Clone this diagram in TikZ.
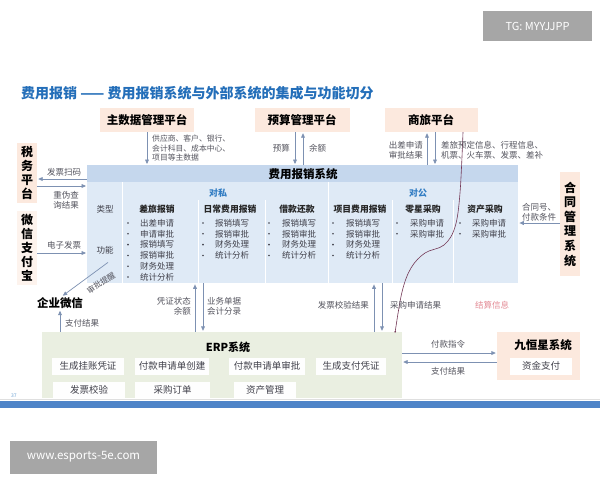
\documentclass[tikz,border=0pt]{standalone}
\usepackage{fontspec}
\setmainfont{Noto Sans CJK SC}
\usetikzlibrary{arrows.meta,calc}
\definecolor{peach}{RGB}{252,233,222}
\definecolor{sysbody}{RGB}{223,234,246}
\definecolor{syshead}{RGB}{197,215,237}
\definecolor{erpfill}{RGB}{234,239,225}
\definecolor{arrowc}{RGB}{125,145,178}
\definecolor{labelc}{RGB}{85,85,95}
\definecolor{itemc}{RGB}{65,65,75}
\definecolor{titleblue}{RGB}{35,110,185}
\definecolor{privblue}{RGB}{50,125,195}
\definecolor{pinkc}{RGB}{228,140,150}
\definecolor{barblue}{RGB}{78,132,200}
\definecolor{grayboxc}{RGB}{166,166,166}
\definecolor{curvec}{RGB}{115,55,85}
\newcommand\myfs[1]{\fontsize{#1}{#1}\selectfont}
\begin{document}
\begin{tikzpicture}[x=1pt,y=-1pt,
  plat/.style={fill=peach, inner sep=0, minimum height=24pt, font=\bfseries\myfs{11.5}},
  side/.style={fill=peach, inner sep=0, minimum width=20pt, align=center, font=\bfseries\fontsize{12}{14}\selectfont},
  lbl/.style={inner sep=0, text=labelc, font=\fontsize{8.5}{10}\selectfont},
  arr/.style={draw=arrowc, line width=0.7pt, shorten >=1pt, -{Triangle[width=3.8pt,length=4.4pt]}},
  colhead/.style={inner sep=0, font=\bfseries\myfs{8.8}, text=black!85},
  item/.style={inner sep=0, anchor=west, font=\myfs{8.5}, text=itemc},
  erpin/.style={fill=white!96!erpfill, inner sep=0, font=\myfs{9.5}, text=itemc},
  sep/.style={white, line width=0.8pt},
  grayb/.style={fill=grayboxc, text=white, inner sep=0}
]
\useasboundingbox (0,0) rectangle (600,480);
\fill[white] (0,0) rectangle (600,480);

% watermark boxes
\node[grayb, minimum width=109pt, minimum height=30pt, font=\myfs{11}] (tg) at (537.5,26) {TG: MYYJJPP};
\node[grayb, minimum width=147pt, minimum height=33pt, font=\myfs{11.5}] (www) at (83.5,457) {www.esports-5e.com};

% title
\node[anchor=west, inner sep=0, font=\bfseries\myfs{14}, text=titleblue] (title) at (21,93) {费用报销 —— 费用报销系统与外部系统的集成与功能切分};

% bottom bar
\draw[gray!25, line width=0.6pt] (0,399) -- (600,399);
\fill[barblue] (0,401) rectangle (600,408);
\node[inner sep=0, font=\myfs{5}, text=privblue!70] (pg) at (14,396) {37};

% platforms
\node[plat, minimum width=94pt] (mdm) at (147,120) {主数据管理平台};
\node[plat, minimum width=95pt] (ysp) at (302,120) {预算管理平台};
\node[plat, minimum width=93pt] (slp) at (431,120) {商旅平台};

% main system box
\node[fill=sysbody, minimum width=431pt, minimum height=118pt, inner sep=0, anchor=north west] (sys) at (87,165) {};
\node[fill=syshead, minimum width=431pt, minimum height=17pt, inner sep=0, anchor=north west] (sysh) at (87,165) {};
\node[inner sep=0, font=\bfseries\myfs{11.5}] (syst) at (303,174) {费用报销系统};
\draw[sep] (122,182) -- (122,283);
\draw[sep] (198,200) -- (198,283);
\draw[sep] (265,200) -- (265,283);
\draw[sep] (328,182) -- (328,283);
\draw[sep] (392,200) -- (392,283);
\draw[sep] (453,200) -- (453,283);
\node[inner sep=0, font=\bfseries\myfs{9}, text=privblue] (dsi) at (218,193) {对私};
\node[inner sep=0, font=\bfseries\myfs{9}, text=privblue] (dgo) at (418,193) {对公};
\node[inner sep=0, font=\myfs{8.5}, text=itemc] (lx) at (105,209) {类型};
\node[inner sep=0, font=\myfs{8.5}, text=itemc] (gn) at (105,250) {功能};
\node[colhead] (c1) at (157,209) {差旅报销};
\node[colhead] (c2) at (230,209) {日常费用报销};
\node[colhead] (c3) at (297,209) {借款还款};
\node[colhead] (c4) at (360,209) {项目费用报销};
\node[colhead] (c5) at (423,209) {零星采购};
\node[colhead] (c6) at (485,209) {资产采购};
\foreach \t [count=\i] in {出差申请,申请审批,报销填写,报销审批,财务处理,统计分析} {
  \node[item] (a\i) at (140,{223+(\i-1)*10.8}) {\t};
  \fill[itemc] ([xshift=-12pt]a\i.west) circle (0.9pt);
}
\foreach \t [count=\i] in {报销填写,报销审批,财务处理,统计分析} {
  \node[item] (b\i) at (215,{223+(\i-1)*10.8}) {\t};
  \fill[itemc] ([xshift=-12pt]b\i.west) circle (0.9pt);
  \node[item] (d\i) at (282,{223+(\i-1)*10.8}) {\t};
  \fill[itemc] ([xshift=-13pt]d\i.west) circle (0.9pt);
  \node[item] (e\i) at (346,{223+(\i-1)*10.8}) {\t};
  \fill[itemc] ([xshift=-13pt]e\i.west) circle (0.9pt);
}
\foreach \t [count=\i] in {采购申请,采购审批} {
  \node[item] (f\i) at (410,{223+(\i-1)*10.8}) {\t};
  \fill[itemc] ([xshift=-13pt]f\i.west) circle (0.9pt);
  \node[item] (g\i) at (472,{223+(\i-1)*10.8}) {\t};
  \fill[itemc] ([xshift=-12pt]g\i.west) circle (0.9pt);
}

% side systems
\node[side, minimum height=60pt] (tax) at (27,173) {税\\务\\平\\台};
\node[side, fill=peach!55, minimum height=74pt] (wx) at (27,248) {微\\信\\支\\付\\宝};
\node[side, minimum height=104pt, font=\bfseries\fontsize{12}{14.6}\selectfont] (ht) at (570,224) {合\\同\\管\\理\\系\\统};
\node[inner sep=1pt, font=\bfseries\myfs{11.5}] (qy) at (60,303) {企业微信};

% ERP
\node[fill=erpfill, minimum width=360pt, minimum height=66pt, inner sep=0] (erp) at (222,365) {};
\node[inner sep=0, font=\bfseries\myfs{11}] (erpt) at (228,347) {ERP系统};
\node[erpin, minimum width=72pt, minimum height=17pt] (e11) at (88,366) {生成挂账凭证};
\node[erpin, minimum width=74pt, minimum height=17pt] (e12) at (172,366) {付款申请单创建};
\node[erpin, minimum width=76pt, minimum height=17pt] (e13) at (267,366) {付款申请单审批};
\node[erpin, minimum width=70pt, minimum height=17pt] (e14) at (351,366) {生成支付凭证};
\node[erpin, minimum width=72pt, minimum height=16pt] (e21) at (89,390) {发票校验};
\node[erpin, minimum width=75pt, minimum height=16pt] (e22) at (172.5,390) {采购订单};
\node[erpin, minimum width=62pt, minimum height=16pt] (e23) at (265,390) {资产管理};

% Jiuhengxing
\node[fill=peach, minimum width=83pt, minimum height=48pt, inner sep=0] (jhx) at (538.5,356) {};
\node[inner sep=0, font=\bfseries\myfs{11.5}] (jhxt) at (543,345) {九恒星系统};
\node[fill=white, minimum width=62pt, minimum height=17pt, inner sep=0, font=\myfs{9.5}, text=itemc] (zj) at (541,366) {资金支付};

% helper coordinates
\coordinate (vA) at (147,0);
\coordinate (vB) at (295,0);
\coordinate (vC) at (303,0);
\coordinate (vD) at (427,0);
\coordinate (vE) at (435,0);
\coordinate (vF) at (195,0);
\coordinate (vG) at (203,0);
\coordinate (vH) at (374,0);
\coordinate (vI) at (382,0);
\coordinate (vJ) at (60,0);
\coordinate (yA) at (0,179);
\coordinate (yB) at (0,186);
\coordinate (yC) at (0,253);
\coordinate (yD) at (0,223);
\coordinate (yE) at (0,353);
\coordinate (yF) at (0,362);

% vertical connectors
\draw[arr] (mdm.south -| vA) -- (sys.north -| vA);
\draw[arr] (ysp.south -| vB) -- (sys.north -| vB);
\draw[arr] (sys.north -| vC) -- (ysp.south -| vC);
\draw[arr] (sys.north -| vD) -- (slp.south -| vD);
\draw[arr] (slp.south -| vE) -- (sys.north -| vE);
\draw[arr] (erp.north -| vF) -- (sys.south -| vF);
\draw[arr] (sys.south -| vG) -- (erp.north -| vG);
\draw[arr] (erp.north -| vH) -- (sys.south -| vH);
\draw[arr] (sys.south -| vI) -- (erp.north -| vI);
\draw[arr] (erp.north -| vJ) -- (qy.south -| vJ);

% horizontal connectors
\draw[arr] (sys.west |- yA) -- (tax.east |- yA);
\draw[arr] (tax.east |- yB) -- (sys.west |- yB);
\draw[arr] (wx.east |- yC) -- (sys.west |- yC);
\draw[arr] (ht.west |- yD) -- (sys.east |- yD);
\draw[arr] (erp.east |- yE) -- (jhx.west |- yE);
\draw[arr] (jhx.west |- yF) -- (erp.east |- yF);
\draw[arr] ([xshift=21pt,yshift=21pt]sys.south west) -- ([xshift=2pt]qy.north);

% curve annotation
\coordinate (cs) at ([xshift=32pt]slp.south);
\coordinate (ce) at ([xshift=-7pt]erp.north east);
\draw[curvec, line width=0.6pt] plot[smooth, tension=0.6] coordinates {(cs) (460,193) (455,227) (444,245) (425,253) (411,268) (402,292) (ce)};
\fill[curvec] (ce) circle (0.9pt);

% labels
\node[lbl, anchor=north west, align=left, font=\fontsize{7.8}{9.5}\selectfont] (lmdm) at (152,135) {供应商、客户、银行、\\会计科目、成本中心、\\项目等主数据};
\node[lbl, anchor=east] (lys) at (290,148) {预算};
\node[lbl, anchor=west] (lye) at (309,148) {余额};
\node[lbl, anchor=east, align=left] (lsl1) at (423,150) {出差申请\\审批结果};
\node[lbl, anchor=west, align=left] (lsl2) at (441,150) {差旅预定信息、行程信息、\\机票、火车票、发票、差补};
\node[lbl] (lfp) at (64,172) {发票扫码};
\node[lbl, align=center] (lcw) at (66,200) {重伪查\\询结果};
\node[lbl] (ldz) at (64,245) {电子发票};
\node[lbl, rotate=33, font=\myfs{8}] (lsp) at (101,283) {审批提醒};
\node[lbl, anchor=west, align=left] (lht) at (522,212) {合同号、\\付款条件};
\node[lbl, anchor=east, align=right] (lpz) at (191,306) {凭证状态\\余额};
\node[lbl, anchor=west, align=left] (lyw) at (207,306) {业务单据\\会计分录};
\node[lbl, anchor=east] (lfj) at (369,305) {发票校验结果};
\node[lbl, anchor=west] (lcg) at (390,305) {采购申请结果};
\node[lbl, text=pinkc] (ljs) at (492,305) {结算信息};
\node[lbl, anchor=west] (lzf1) at (65,323) {支付结果};
\node[lbl] (lfk) at (448,344) {付款指令};
\node[lbl] (lzf2) at (448,371) {支付结果};
\end{tikzpicture}
\end{document}
